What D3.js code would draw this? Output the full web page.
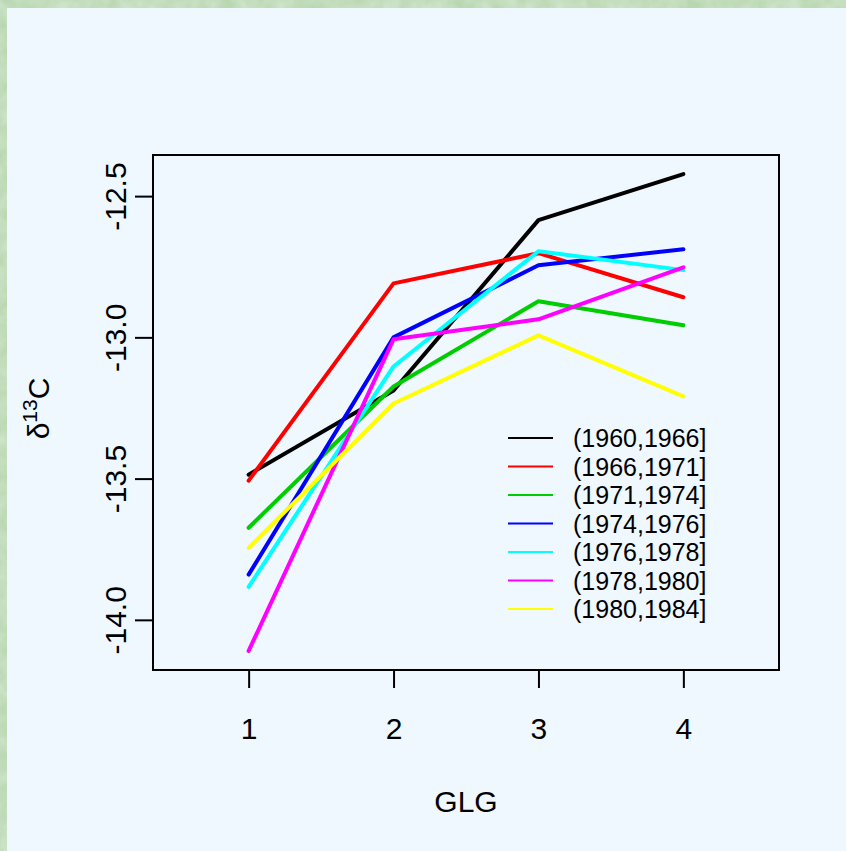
<!DOCTYPE html>
<html>
<head>
<meta charset="utf-8">
<script src="https://cdn.jsdelivr.net/npm/d3@7"></script>
<style>
  html, body { margin: 0; padding: 0; background: #b9d7b0; }
  svg { display: block; }
</style>
</head>
<body>
<svg id="chart" width="846" height="851"></svg>
<script>
// Glacial growth layers (GLG) and mean delta-13C per period
const glg = [1, 2, 3, 4];
const periods = ["(1960,1966]", "(1966,1971]", "(1971,1974]", "(1974,1976]",
                 "(1976,1978]", "(1978,1980]", "(1980,1984]"];
const colors = ["#000000", "#ff0000", "#00cd00", "#0000ff", "#00ffff", "#ff00ff", "#ffff00"];
const d1960 = [-13.486, -13.188, -12.585, -12.422];
const d1966 = [-13.507, -12.809, -12.702, -12.858];
const d1971 = [-13.674, -13.174, -12.872, -12.957];
const d1974 = [-13.840, -13.000, -12.745, -12.688];
const d1976 = [-13.883, -13.103, -12.695, -12.762];
const d1978 = [-14.110, -13.007, -12.936, -12.752];
const d1980 = [-13.745, -13.234, -12.993, -13.209];
const seriesValues = [d1960, d1966, d1971, d1974, d1976, d1978, d1980];
const yTicks = [-12.5, -13.0, -13.5, -14.0];

const svg = d3.select("#chart");
const W = 846, H = 851;

// textured green surround
const defs = svg.append("defs");
const tex = defs.append("filter").attr("id", "leafy").attr("x", 0).attr("y", 0)
  .attr("width", "100%").attr("height", "100%");
tex.append("feTurbulence").attr("type", "fractalNoise").attr("baseFrequency", 0.06)
  .attr("numOctaves", 3).attr("seed", 7).attr("result", "noise");
tex.append("feColorMatrix").attr("in", "noise").attr("type", "matrix")
  .attr("values", "0 0 0 0 0.66  0 0 0 0 0.81  0 0 0 0 0.64  0 0 0 -1.1 0.9")
  .attr("result", "tint");
tex.append("feComposite").attr("in", "tint").attr("in2", "SourceGraphic").attr("operator", "over");
svg.append("rect").attr("width", W).attr("height", H).attr("fill", "#b8d6af");
svg.append("rect").attr("width", W).attr("height", H).attr("fill", "#b8d6af").attr("filter", "url(#leafy)");

// light panel
svg.append("rect").attr("x", 7).attr("y", 8).attr("width", W - 7).attr("height", H - 8)
  .attr("fill", "#eff7ff");

const box = { left: 153, right: 779, top: 155, bottom: 670 };

// R-style axis limits: 4% padding
const xlim = [0.5, 4.5];
const xpad = (xlim[1] - xlim[0]) * 0.04;
const x = d3.scaleLinear().domain([xlim[0] - xpad, xlim[1] + xpad]).range([box.left, box.right]);

const allVals = seriesValues.flat();
const ymin = d3.min(allVals), ymax = d3.max(allVals);
const ypad = (ymax - ymin) * 0.04;
const y = d3.scaleLinear().domain([ymin - ypad, ymax + ypad]).range([box.bottom, box.top]);

const font = "Liberation Sans, Arial, Helvetica, sans-serif";

// series lines
const line = d3.line().x((d, i) => x(glg[i])).y(d => y(d));
svg.append("g").selectAll("path").data(seriesValues).join("path")
  .attr("d", line)
  .attr("fill", "none")
  .attr("stroke", (d, i) => colors[i])
  .attr("stroke-width", 4)
  .attr("stroke-linecap", "round")
  .attr("stroke-linejoin", "round");

// plot frame
svg.append("rect")
  .attr("x", box.left).attr("y", box.top)
  .attr("width", box.right - box.left).attr("height", box.bottom - box.top)
  .attr("fill", "none").attr("stroke", "#000").attr("stroke-width", 2);

// x axis
const xAxis = d3.axisBottom(x).tickValues(glg).tickFormat(d3.format("d"))
  .tickSize(18).tickPadding(30);
const gx = svg.append("g").attr("transform", `translate(0,${box.bottom})`).call(xAxis);
gx.select(".domain").remove();
gx.selectAll(".tick line").attr("stroke", "#000").attr("stroke-width", 2);
gx.selectAll(".tick text").attr("font-family", font).attr("font-size", 30).attr("fill", "#000")
  .attr("dy", "0.71em");

// y axis with rotated labels
const yAxis = d3.axisLeft(y).tickValues(yTicks).tickFormat(d3.format(".1f")).tickSize(18);
const gy = svg.append("g").attr("transform", `translate(${box.left},0)`).call(yAxis);
gy.select(".domain").remove();
gy.selectAll(".tick line").attr("stroke", "#000").attr("stroke-width", 2);
gy.selectAll(".tick text")
  .attr("font-family", font).attr("font-size", 30).attr("fill", "#000")
  .attr("x", null).attr("dy", null)
  .attr("text-anchor", "middle")
  .attr("transform", "translate(-27,0) rotate(-90)")
  .text(d => d3.format(".1f")(d).replace("−", "-"));

// axis titles
svg.append("text").attr("x", (box.left + box.right) / 2).attr("y", 812)
  .attr("text-anchor", "middle").attr("font-family", font).attr("font-size", 30)
  .text("GLG");

const ylab = svg.append("text")
  .attr("transform", `translate(49,${(box.top + box.bottom) / 2 - 4}) rotate(-90)`)
  .attr("text-anchor", "middle").attr("font-family", font).attr("font-size", 30);
ylab.append("tspan").text("δ");
ylab.append("tspan").attr("font-size", 21).attr("dy", -12).text("13");
ylab.append("tspan").attr("dy", 12).text("C");

// legend
const leg = svg.append("g");
const rowY = i => 438 + i * 28.5;
leg.selectAll("line").data(periods).join("line")
  .attr("x1", 508).attr("x2", 553)
  .attr("y1", (d, i) => rowY(i)).attr("y2", (d, i) => rowY(i))
  .attr("stroke", (d, i) => colors[i]).attr("stroke-width", 2);
leg.selectAll("text").data(periods).join("text")
  .attr("x", 573).attr("y", (d, i) => rowY(i))
  .attr("dy", "0.36em")
  .attr("font-family", font).attr("font-size", 25).attr("fill", "#000")
  .text(d => d);
</script>
</body>
</html>
